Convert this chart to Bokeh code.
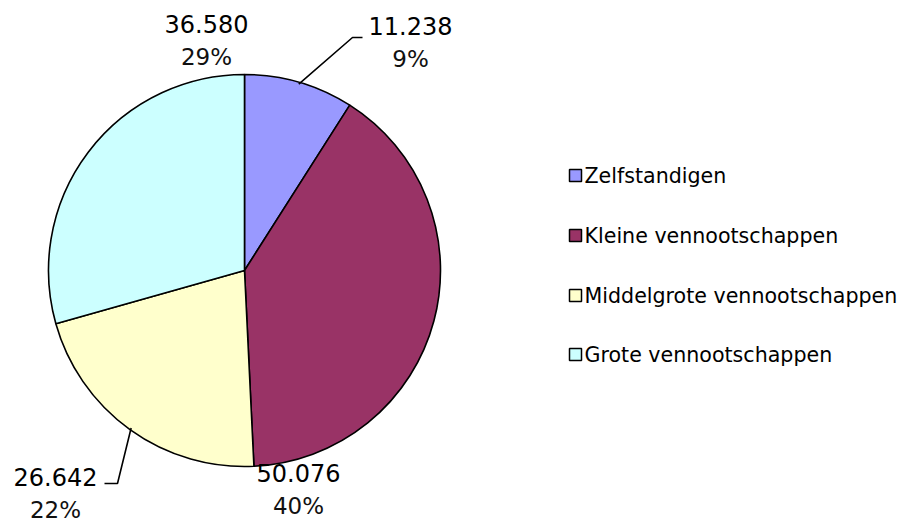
import math
from bokeh.plotting import figure
from bokeh.models import Range1d
from bokeh.core.properties import value
from bokeh.embed import file_html
from bokeh.resources import INLINE

# ---- data ----
categories = ["Zelfstandigen", "Kleine vennootschappen", "Middelgrote vennootschappen", "Grote vennootschappen"]
values = [11238, 50076, 26642, 36580]
value_labels = ["11.238", "50.076", "26.642", "36.580"]
pct_labels = ["9%", "40%", "22%", "29%"]
colors = ["#9999FF", "#993366", "#FFFFCC", "#CCFFFF"]

# ---- layout (picture pixel positions) ----
W, H = 906, 522
def X(px): return px
def Y(py): return H - py

center_px = (244, 270)
radius = 196
label_pos = [(410, 25), (298, 472), (55, 476), (206, 23)]   # value label centres
pct_dy = 33
leader_ends = {0: [(352, 37), (362, 37)], 2: [(117, 483), (104, 483)]}
legend_x, legend_ys = 575, [175, 235, 295, 354]

p = figure(width=W, height=H, output_backend="svg", toolbar_location=None,
           x_range=Range1d(0, W), y_range=Range1d(0, H),
           x_axis_type=None, y_axis_type=None, min_border=0)
p.outline_line_color = None
p.grid.visible = False
p.background_fill_color = "white"

total = float(sum(values))
cx, cy = X(center_px[0]), Y(center_px[1])
cum = 0.0
starts, ends, mids = [], [], []
for v in values:
    a0 = math.pi / 2 - 2 * math.pi * (cum + v) / total
    a1 = math.pi / 2 - 2 * math.pi * cum / total
    starts.append(a0); ends.append(a1); mids.append((a0 + a1) / 2)
    cum += v

p.wedge(x=[cx] * len(values), y=[cy] * len(values), radius=radius,
        start_angle=starts, end_angle=ends, fill_color=colors,
        line_color="black", line_width=1.6)

# leader lines
for i, pts in leader_ends.items():
    ex = cx + radius * math.cos(mids[i]) * 0.99
    ey = cy + radius * math.sin(mids[i]) * 0.99
    xs = [ex] + [X(a) for a, b in pts]
    ys = [ey] + [Y(b) for a, b in pts]
    p.line(xs, ys, line_color="black", line_width=1.6)

font = value("DejaVu Sans")
p.text(x=[X(a) for a, b in label_pos], y=[Y(b) for a, b in label_pos], text=value_labels,
       text_font=font, text_font_size="24px", text_align="center",
       text_baseline="middle", text_color="black")
p.text(x=[X(a) for a, b in label_pos], y=[Y(b + pct_dy) for a, b in label_pos], text=pct_labels,
       text_font=font, text_font_size="23px", text_align="center",
       text_baseline="middle", text_color="#111111")

# legend
p.rect(x=[X(legend_x)] * 4, y=[Y(v) for v in legend_ys], width=12, height=12,
       fill_color=colors, line_color="black", line_width=1.5)
p.text(x=[X(legend_x + 9)] * 4, y=[Y(v) for v in legend_ys], text=categories,
       text_font=font, text_font_size="20.6px", text_align="left",
       text_baseline="middle", text_color="black")

open("out.html", "w").write(file_html(p, INLINE))
